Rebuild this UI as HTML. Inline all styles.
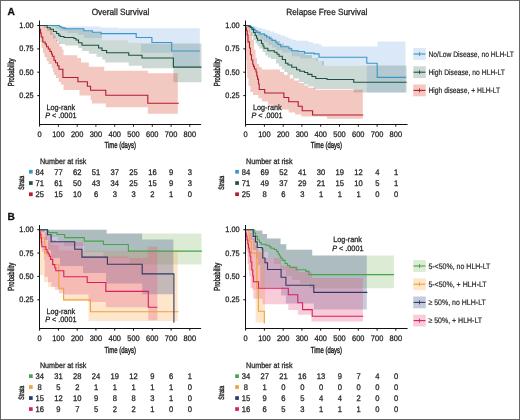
<!DOCTYPE html>
<html><head><meta charset="utf-8"><style>
html,body{margin:0;padding:0;background:#fff;}
body{width:520px;height:420px;overflow:hidden;font-family:"Liberation Sans", sans-serif;}
svg{display:block;will-change:transform;filter:blur(0.3px);} text{text-rendering:geometricPrecision;}
</style></head><body>
<svg width="520" height="420" viewBox="0 0 520 420" font-family='"Liberation Sans", sans-serif'>
<rect x="0" y="0" width="520" height="420" fill="#fff"/>
<text transform="translate(7.60,15.30) scale(1.000,1)" font-size="10.20" text-anchor="start" fill="#111" stroke="#111" stroke-width="0.28" font-weight="bold">A</text>
<text transform="translate(120.50,15.20) scale(0.915,1)" font-size="9.00" text-anchor="middle" fill="#262626" stroke="#262626" stroke-width="0.28" >Overall Survival</text>
<text transform="translate(326.80,15.20) scale(0.915,1)" font-size="9.00" text-anchor="middle" fill="#262626" stroke="#262626" stroke-width="0.28" >Relapse Free Survival</text>
<path d="M39.5,25.5 L59.0,25.5 L59.0,26.5 L100.0,26.5 L100.0,27.4 L118.0,27.4 L118.0,28.2 L199.8,28.2 L199.8,67.0 L172.5,67.0 L172.5,52.7 L141.0,52.7 L141.0,42.8 L128.0,42.8 L128.0,40.3 L102.0,40.3 L102.0,38.0 L84.0,38.0 L84.0,35.0 L78.0,35.0 L78.0,33.0 L67.0,33.0 L67.0,31.0 L60.0,31.0 L60.0,29.0 L56.0,29.0 L56.0,27.0 L52.0,27.0 L52.0,25.5 L39.5,25.5Z" fill="#87b2e8" fill-opacity="0.3" stroke="none"/>
<path d="M39.5,25.5 L58.0,25.5 L58.0,27.0 L66.0,27.0 L66.0,28.5 L84.0,28.5 L84.0,31.0 L92.4,31.0 L92.4,32.5 L102.0,32.5 L102.0,40.3 L128.0,40.3 L128.0,42.8 L141.0,42.8 L141.0,43.6 L201.5,43.6 L201.5,82.3 L173.4,82.3 L173.4,68.3 L142.0,68.3 L142.0,65.8 L128.7,65.8 L128.7,62.5 L105.2,62.5 L105.2,59.5 L102.3,59.5 L102.3,56.7 L96.5,56.7 L96.5,53.8 L88.8,53.8 L88.8,50.9 L82.1,50.9 L82.1,48.0 L78.3,48.0 L78.3,45.5 L65.0,45.5 L65.0,44.0 L59.0,44.0 L59.0,41.5 L56.0,41.5 L56.0,38.5 L53.0,38.5 L53.0,35.0 L50.0,35.0 L50.0,31.0 L47.0,31.0 L47.0,28.0 L44.0,28.0 L44.0,25.5 L39.5,25.5Z" fill="#588070" fill-opacity="0.3" stroke="none"/>
<path d="M39.5,25.5 L42.0,25.5 L42.0,26.0 L45.7,26.0 L45.7,27.0 L48.0,27.0 L48.0,28.5 L50.3,28.5 L50.3,30.0 L52.0,30.0 L52.0,33.0 L53.4,33.0 L53.4,35.4 L55.7,35.4 L55.7,40.0 L57.0,40.0 L57.0,42.4 L59.5,42.4 L59.5,46.4 L62.0,46.4 L62.0,49.6 L63.5,49.6 L63.5,55.2 L77.3,55.2 L77.3,58.0 L81.0,58.0 L81.0,62.5 L88.8,62.5 L88.8,66.8 L104.2,66.8 L104.2,70.7 L147.8,70.7 L147.8,73.2 L177.8,73.2 L177.8,113.7 L147.8,113.7 L147.8,107.3 L105.8,107.3 L105.8,103.5 L92.0,103.5 L92.0,100.3 L90.6,100.3 L90.6,95.5 L79.5,95.5 L79.5,90.0 L63.5,90.0 L63.5,84.5 L61.0,84.5 L61.0,82.0 L58.7,82.0 L58.7,78.0 L56.0,78.0 L56.0,75.0 L54.0,75.0 L54.0,72.0 L53.0,72.0 L53.0,68.0 L51.6,68.0 L51.6,64.0 L48.5,64.0 L48.5,61.0 L46.5,61.0 L46.5,57.0 L44.4,57.0 L44.4,53.0 L43.0,53.0 L43.0,48.0 L41.5,48.0 L41.5,42.0 L40.4,42.0 L40.4,35.0 L39.5,35.0 L39.5,25.5Z" fill="#d74830" fill-opacity="0.3" stroke="none"/>
<path d="M39.5,25.5 H59.2 V26.4 H61 V27.3 H63 V28.1 H65 V28.7 H83.8 V30.7 H92.4 V32.2 H101 V33.6 H136.2 V37.5 H151.9 V42.5 H171.7 V51 H199.8" fill="none" stroke="#3a96c6" stroke-width="1.1" stroke-linejoin="miter"/>
<path d="M39.5,25.5 H47.2 V27.7 H50.3 V29.2 H53.4 V31.5 H56.5 V33.5 H58.8 V35.4 H60.3 V36.5 H64 V37.5 H74 V38.5 H76 V40 H78.5 V42.8 H82 V45.3 H98.6 V48 H102 V50.5 H106.6 V52.7 H128.7 V55.2 H142 V58 H173.4 V67.1 H201.5" fill="none" stroke="#1b5340" stroke-width="1.1" stroke-linejoin="miter"/>
<path d="M39.5,25.5 V29.2 H40.5 V33 H41.2 V37 H42.8 V42 H45.2 V44 H46.5 V46.7 H48.3 V49 H50 V51.5 H51.5 V54 H52.4 V56.3 H54 V60.3 H55.5 V62.7 H57.5 V65.8 H59 V69.2 H62.9 V77.5 H77.9 V81.8 H87.4 V86.2 H90.6 V90.2 H105.8 V95.2 H147.8 V103.3 H178.8" fill="none" stroke="#b41a30" stroke-width="1.1" stroke-linejoin="miter"/>
<line x1="39.5" y1="20.5" x2="39.5" y2="125.0" stroke="#111" stroke-width="1"/>
<line x1="39.0" y1="124.5" x2="201.1" y2="124.5" stroke="#111" stroke-width="1"/>
<line x1="37.3" y1="25.5" x2="39.5" y2="25.5" stroke="#111" stroke-width="1"/>
<text transform="translate(33.60,28.10) scale(0.930,1)" font-size="7.92" text-anchor="end" fill="#262626" stroke="#262626" stroke-width="0.28" >1.00</text>
<line x1="37.3" y1="48.9" x2="39.5" y2="48.9" stroke="#111" stroke-width="1"/>
<text transform="translate(33.60,51.45) scale(0.930,1)" font-size="7.92" text-anchor="end" fill="#262626" stroke="#262626" stroke-width="0.28" >0.75</text>
<line x1="37.3" y1="72.2" x2="39.5" y2="72.2" stroke="#111" stroke-width="1"/>
<text transform="translate(33.60,74.80) scale(0.930,1)" font-size="7.92" text-anchor="end" fill="#262626" stroke="#262626" stroke-width="0.28" >0.50</text>
<line x1="37.3" y1="95.6" x2="39.5" y2="95.6" stroke="#111" stroke-width="1"/>
<text transform="translate(33.60,98.15) scale(0.930,1)" font-size="7.92" text-anchor="end" fill="#262626" stroke="#262626" stroke-width="0.28" >0.25</text>
<line x1="39.6" y1="124.5" x2="39.6" y2="126.7" stroke="#111" stroke-width="1"/>
<text transform="translate(39.60,137.10) scale(0.930,1)" font-size="8.03" text-anchor="middle" fill="#262626" stroke="#262626" stroke-width="0.28" >0</text>
<line x1="58.4" y1="124.5" x2="58.4" y2="126.7" stroke="#111" stroke-width="1"/>
<text transform="translate(58.38,137.10) scale(0.930,1)" font-size="8.03" text-anchor="middle" fill="#262626" stroke="#262626" stroke-width="0.28" >100</text>
<line x1="77.2" y1="124.5" x2="77.2" y2="126.7" stroke="#111" stroke-width="1"/>
<text transform="translate(77.16,137.10) scale(0.930,1)" font-size="8.03" text-anchor="middle" fill="#262626" stroke="#262626" stroke-width="0.28" >200</text>
<line x1="95.9" y1="124.5" x2="95.9" y2="126.7" stroke="#111" stroke-width="1"/>
<text transform="translate(95.94,137.10) scale(0.930,1)" font-size="8.03" text-anchor="middle" fill="#262626" stroke="#262626" stroke-width="0.28" >300</text>
<line x1="114.7" y1="124.5" x2="114.7" y2="126.7" stroke="#111" stroke-width="1"/>
<text transform="translate(114.72,137.10) scale(0.930,1)" font-size="8.03" text-anchor="middle" fill="#262626" stroke="#262626" stroke-width="0.28" >400</text>
<line x1="133.5" y1="124.5" x2="133.5" y2="126.7" stroke="#111" stroke-width="1"/>
<text transform="translate(133.50,137.10) scale(0.930,1)" font-size="8.03" text-anchor="middle" fill="#262626" stroke="#262626" stroke-width="0.28" >500</text>
<line x1="152.3" y1="124.5" x2="152.3" y2="126.7" stroke="#111" stroke-width="1"/>
<text transform="translate(152.28,137.10) scale(0.930,1)" font-size="8.03" text-anchor="middle" fill="#262626" stroke="#262626" stroke-width="0.28" >600</text>
<line x1="171.1" y1="124.5" x2="171.1" y2="126.7" stroke="#111" stroke-width="1"/>
<text transform="translate(171.06,137.10) scale(0.930,1)" font-size="8.03" text-anchor="middle" fill="#262626" stroke="#262626" stroke-width="0.28" >700</text>
<line x1="189.8" y1="124.5" x2="189.8" y2="126.7" stroke="#111" stroke-width="1"/>
<text transform="translate(189.84,137.10) scale(0.930,1)" font-size="8.03" text-anchor="middle" fill="#262626" stroke="#262626" stroke-width="0.28" >800</text>
<text transform="translate(13.5,72.4) rotate(-90) scale(0.680,1)" font-size="8.80" text-anchor="middle" fill="#262626" stroke="#262626" stroke-width="0.42">Probability</text>
<text transform="translate(60.80,109.60) scale(0.930,1)" font-size="7.81" text-anchor="middle" fill="#262626" stroke="#262626" stroke-width="0.28" >Log-rank</text>
<text transform="translate(45.20,118.00) scale(0.930,1)" font-size="7.81" text-anchor="start" fill="#262626" stroke="#262626" stroke-width="0.28" ><tspan font-style="italic">P</tspan> &lt; .0001</text>
<text transform="translate(120.2,148.3) scale(0.680,1)" font-size="8.80" text-anchor="middle" fill="#262626" stroke="#262626" stroke-width="0.42">Time (days)</text>
<path d="M245.8,25.5 L252.0,25.5 L252.0,26.2 L256.0,26.2 L256.0,27.0 L258.0,27.0 L258.0,28.0 L262.3,28.0 L262.3,29.2 L266.0,29.2 L266.0,30.3 L270.0,30.3 L270.0,31.5 L274.0,31.5 L274.0,33.0 L277.0,33.0 L277.0,34.2 L280.8,34.2 L280.8,35.4 L285.0,35.4 L285.0,37.0 L288.5,37.0 L288.5,38.5 L292.0,38.5 L292.0,39.7 L296.2,39.7 L296.2,40.8 L308.5,40.8 L308.5,42.3 L313.0,42.3 L313.0,43.5 L319.2,43.5 L319.2,44.6 L321.5,44.6 L321.5,46.5 L377.5,46.5 L377.5,41.5 L405.5,41.5 L405.5,92.6 L366.8,92.6 L366.8,65.2 L322.0,65.2 L322.0,61.0 L316.0,61.0 L316.0,58.5 L300.0,58.5 L300.0,56.3 L291.8,56.3 L291.8,52.5 L282.0,52.5 L282.0,50.0 L276.0,50.0 L276.0,47.5 L272.0,47.5 L272.0,45.0 L268.0,45.0 L268.0,42.0 L264.0,42.0 L264.0,39.5 L260.0,39.5 L260.0,36.5 L257.0,36.5 L257.0,33.5 L254.0,33.5 L254.0,31.0 L252.0,31.0 L252.0,29.0 L250.4,29.0 L250.4,27.0 L248.0,27.0 L248.0,25.5 L245.8,25.5Z" fill="#87b2e8" fill-opacity="0.3" stroke="none"/>
<path d="M245.8,25.5 L250.0,25.5 L250.0,26.5 L252.0,26.5 L252.0,27.5 L254.0,27.5 L254.0,28.5 L256.0,28.5 L256.0,30.0 L258.4,30.0 L258.4,31.5 L261.0,31.5 L261.0,33.0 L264.7,33.0 L264.7,34.5 L268.0,34.5 L268.0,36.5 L272.0,36.5 L272.0,39.0 L276.0,39.0 L276.0,41.0 L280.0,41.0 L280.0,43.5 L284.0,43.5 L284.0,45.5 L288.0,45.5 L288.0,47.5 L292.0,47.5 L292.0,50.0 L298.0,50.0 L298.0,52.5 L305.0,52.5 L305.0,55.0 L312.0,55.0 L312.0,58.0 L318.0,58.0 L318.0,61.0 L324.0,61.0 L324.0,65.6 L406.6,65.6 L406.6,92.4 L353.7,92.4 L353.7,88.9 L314.0,88.9 L314.0,86.6 L308.3,86.6 L308.3,84.5 L304.0,84.5 L304.0,82.0 L299.0,82.0 L299.0,78.5 L293.0,78.5 L293.0,75.0 L287.5,75.0 L287.5,72.0 L284.5,72.0 L284.5,69.3 L281.8,69.3 L281.8,66.5 L279.0,66.5 L279.0,63.5 L276.0,63.5 L276.0,59.0 L271.0,59.0 L271.0,57.5 L268.0,57.5 L268.0,55.6 L265.3,55.6 L265.3,52.0 L262.5,52.0 L262.5,48.5 L259.5,48.5 L259.5,46.0 L257.5,46.0 L257.5,43.5 L255.5,43.5 L255.5,40.0 L253.0,40.0 L253.0,36.0 L251.0,36.0 L251.0,32.0 L249.0,32.0 L249.0,28.0 L247.0,28.0 L247.0,25.5 L245.8,25.5Z" fill="#588070" fill-opacity="0.3" stroke="none"/>
<path d="M245.8,25.5 L248.0,25.5 L248.0,27.0 L250.0,27.0 L250.0,32.0 L252.0,32.0 L252.0,40.0 L254.0,40.0 L254.0,50.0 L255.5,50.0 L255.5,58.0 L257.0,58.0 L257.0,64.0 L259.0,64.0 L259.0,67.0 L261.8,67.0 L261.8,69.4 L280.0,69.4 L280.0,72.0 L284.0,72.0 L284.0,75.0 L289.8,75.0 L289.8,78.5 L294.0,78.5 L294.0,80.5 L299.0,80.5 L299.0,83.1 L304.0,83.1 L304.0,85.5 L308.3,85.5 L308.3,87.8 L315.2,87.8 L315.2,89.8 L362.8,89.8 L362.8,118.7 L327.0,118.7 L327.0,116.6 L301.4,116.6 L301.4,114.5 L295.0,114.5 L295.0,112.6 L288.7,112.6 L288.7,109.4 L279.0,109.4 L279.0,107.0 L273.0,107.0 L273.0,104.7 L268.0,104.7 L268.0,101.5 L262.0,101.5 L262.0,98.3 L258.4,98.3 L258.4,95.0 L253.0,95.0 L253.0,92.0 L250.4,92.0 L250.4,86.0 L248.5,86.0 L248.5,78.0 L247.2,78.0 L247.2,70.0 L246.5,70.0 L246.5,60.0 L245.8,60.0 L245.8,25.5Z" fill="#d74830" fill-opacity="0.3" stroke="none"/>
<path d="M245.8,25.5 H250.4 V26.5 H251.5 V27.8 H253.6 V29.2 H255 V30.8 H256.8 V32.4 H260 V34 H264.7 V35.5 H266.5 V37 H269.5 V38.7 H272 V40.5 H275.9 V42.7 H278 V44.5 H280.7 V46.7 H289 V48.7 H291.8 V50.7 H298.2 V51.5 H304.6 V53.1 H314.2 V53.9 H319 V57.2 H366.8 V63.2 H377.2 V77.4 H406.1" fill="none" stroke="#3a96c6" stroke-width="1.1" stroke-linejoin="miter"/>
<path d="M245.8,25.5 H248.8 V26.5 H250.4 V27.5 H252 V29.5 H253.5 V32.5 H255.2 V35.5 H256.5 V38 H257.6 V40.3 H261.5 V43.5 H263 V46 H264 V48.3 H267.9 V50.7 H274.3 V52.3 H277 V54.3 H279 V56.3 H282.3 V59.5 H285.5 V63.3 H288 V65 H291.8 V67.2 H296.6 V69.8 H299.8 V71.2 H304.6 V72.5 H307.8 V74.4 H312 V76.5 H315.8 V78.5 H327 V79.5 H353.7 V82.3 H406.6" fill="none" stroke="#1b5340" stroke-width="1.1" stroke-linejoin="miter"/>
<path d="M245.8,25.5 V28 H246.5 V30.8 H247.2 V35 H248 V41.9 H249.5 V48 H250.4 V54.7 H251.5 V60 H252.8 V64.3 H253.5 V66.4 H254.4 V69 H256 V72 H256.8 V76 H257.6 V79.1 H258.5 V84 H259.2 V89.5 H264.7 V93 H283.9 V97.5 H288.7 V101.8 H298.2 V106.3 H302.2 V110.7 H312.6 V115 H363.3" fill="none" stroke="#b41a30" stroke-width="1.1" stroke-linejoin="miter"/>
<line x1="245.5" y1="20.5" x2="245.5" y2="125.0" stroke="#111" stroke-width="1"/>
<line x1="245.0" y1="124.5" x2="407.6" y2="124.5" stroke="#111" stroke-width="1"/>
<line x1="243.3" y1="25.5" x2="245.5" y2="25.5" stroke="#111" stroke-width="1"/>
<text transform="translate(239.60,28.10) scale(0.930,1)" font-size="7.92" text-anchor="end" fill="#262626" stroke="#262626" stroke-width="0.28" >1.00</text>
<line x1="243.3" y1="48.9" x2="245.5" y2="48.9" stroke="#111" stroke-width="1"/>
<text transform="translate(239.60,51.45) scale(0.930,1)" font-size="7.92" text-anchor="end" fill="#262626" stroke="#262626" stroke-width="0.28" >0.75</text>
<line x1="243.3" y1="72.2" x2="245.5" y2="72.2" stroke="#111" stroke-width="1"/>
<text transform="translate(239.60,74.80) scale(0.930,1)" font-size="7.92" text-anchor="end" fill="#262626" stroke="#262626" stroke-width="0.28" >0.50</text>
<line x1="243.3" y1="95.6" x2="245.5" y2="95.6" stroke="#111" stroke-width="1"/>
<text transform="translate(239.60,98.15) scale(0.930,1)" font-size="7.92" text-anchor="end" fill="#262626" stroke="#262626" stroke-width="0.28" >0.25</text>
<line x1="245.6" y1="124.5" x2="245.6" y2="126.7" stroke="#111" stroke-width="1"/>
<text transform="translate(245.60,137.10) scale(0.930,1)" font-size="8.03" text-anchor="middle" fill="#262626" stroke="#262626" stroke-width="0.28" >0</text>
<line x1="264.4" y1="124.5" x2="264.4" y2="126.7" stroke="#111" stroke-width="1"/>
<text transform="translate(264.38,137.10) scale(0.930,1)" font-size="8.03" text-anchor="middle" fill="#262626" stroke="#262626" stroke-width="0.28" >100</text>
<line x1="283.2" y1="124.5" x2="283.2" y2="126.7" stroke="#111" stroke-width="1"/>
<text transform="translate(283.16,137.10) scale(0.930,1)" font-size="8.03" text-anchor="middle" fill="#262626" stroke="#262626" stroke-width="0.28" >200</text>
<line x1="301.9" y1="124.5" x2="301.9" y2="126.7" stroke="#111" stroke-width="1"/>
<text transform="translate(301.94,137.10) scale(0.930,1)" font-size="8.03" text-anchor="middle" fill="#262626" stroke="#262626" stroke-width="0.28" >300</text>
<line x1="320.7" y1="124.5" x2="320.7" y2="126.7" stroke="#111" stroke-width="1"/>
<text transform="translate(320.72,137.10) scale(0.930,1)" font-size="8.03" text-anchor="middle" fill="#262626" stroke="#262626" stroke-width="0.28" >400</text>
<line x1="339.5" y1="124.5" x2="339.5" y2="126.7" stroke="#111" stroke-width="1"/>
<text transform="translate(339.50,137.10) scale(0.930,1)" font-size="8.03" text-anchor="middle" fill="#262626" stroke="#262626" stroke-width="0.28" >500</text>
<line x1="358.3" y1="124.5" x2="358.3" y2="126.7" stroke="#111" stroke-width="1"/>
<text transform="translate(358.28,137.10) scale(0.930,1)" font-size="8.03" text-anchor="middle" fill="#262626" stroke="#262626" stroke-width="0.28" >600</text>
<line x1="377.1" y1="124.5" x2="377.1" y2="126.7" stroke="#111" stroke-width="1"/>
<text transform="translate(377.06,137.10) scale(0.930,1)" font-size="8.03" text-anchor="middle" fill="#262626" stroke="#262626" stroke-width="0.28" >700</text>
<line x1="395.8" y1="124.5" x2="395.8" y2="126.7" stroke="#111" stroke-width="1"/>
<text transform="translate(395.84,137.10) scale(0.930,1)" font-size="8.03" text-anchor="middle" fill="#262626" stroke="#262626" stroke-width="0.28" >800</text>
<text transform="translate(219.7,72.4) rotate(-90) scale(0.680,1)" font-size="8.80" text-anchor="middle" fill="#262626" stroke="#262626" stroke-width="0.42">Probability</text>
<text transform="translate(267.30,109.60) scale(0.930,1)" font-size="7.81" text-anchor="middle" fill="#262626" stroke="#262626" stroke-width="0.28" >Log-rank</text>
<text transform="translate(251.40,118.00) scale(0.930,1)" font-size="7.81" text-anchor="start" fill="#262626" stroke="#262626" stroke-width="0.28" ><tspan font-style="italic">P</tspan> &lt; .0001</text>
<text transform="translate(326.4,148.3) scale(0.680,1)" font-size="8.80" text-anchor="middle" fill="#262626" stroke="#262626" stroke-width="0.42">Time (days)</text>
<rect x="413.2" y="48.1" width="12.6" height="11.8" fill="#87b2e8" fill-opacity="0.3"/>
<line x1="413.6" y1="54.0" x2="425.4" y2="54.0" stroke="#3a96c6" stroke-width="1.1"/>
<line x1="419.5" y1="52.0" x2="419.5" y2="56.0" stroke="#3a96c6" stroke-width="0.9"/>
<text transform="translate(428.4,56.8) scale(0.845,1)" font-size="8.0" fill="#262626" stroke="#262626" stroke-width="0.2">No/Low Disease, no HLH-LT</text>
<rect x="413.2" y="66.3" width="12.6" height="11.8" fill="#588070" fill-opacity="0.3"/>
<line x1="413.6" y1="72.2" x2="425.4" y2="72.2" stroke="#1b5340" stroke-width="1.1"/>
<line x1="419.5" y1="70.2" x2="419.5" y2="74.2" stroke="#1b5340" stroke-width="0.9"/>
<text transform="translate(428.4,75.0) scale(0.845,1)" font-size="8.0" fill="#262626" stroke="#262626" stroke-width="0.2">High Disease, no HLH-LT</text>
<rect x="413.2" y="84.5" width="12.6" height="11.8" fill="#d74830" fill-opacity="0.3"/>
<line x1="413.6" y1="90.4" x2="425.4" y2="90.4" stroke="#b41a30" stroke-width="1.1"/>
<line x1="419.5" y1="88.4" x2="419.5" y2="92.4" stroke="#b41a30" stroke-width="0.9"/>
<text transform="translate(428.4,93.2) scale(0.845,1)" font-size="8.0" fill="#262626" stroke="#262626" stroke-width="0.2">High disease, + HLH-LT</text>
<text transform="translate(39.90,163.50) scale(0.895,1)" font-size="7.97" text-anchor="start" fill="#262626" stroke="#262626" stroke-width="0.28" >Number at risk</text>
<rect x="29.0" y="169.9" width="3.7" height="3.7" fill="#3a96c6"/>
<text transform="translate(39.70,174.55) scale(0.930,1)" font-size="8.19" text-anchor="middle" fill="#262626" stroke="#262626" stroke-width="0.28" >84</text>
<text transform="translate(58.48,174.55) scale(0.930,1)" font-size="8.19" text-anchor="middle" fill="#262626" stroke="#262626" stroke-width="0.28" >77</text>
<text transform="translate(77.26,174.55) scale(0.930,1)" font-size="8.19" text-anchor="middle" fill="#262626" stroke="#262626" stroke-width="0.28" >62</text>
<text transform="translate(96.04,174.55) scale(0.930,1)" font-size="8.19" text-anchor="middle" fill="#262626" stroke="#262626" stroke-width="0.28" >51</text>
<text transform="translate(114.82,174.55) scale(0.930,1)" font-size="8.19" text-anchor="middle" fill="#262626" stroke="#262626" stroke-width="0.28" >37</text>
<text transform="translate(133.60,174.55) scale(0.930,1)" font-size="8.19" text-anchor="middle" fill="#262626" stroke="#262626" stroke-width="0.28" >25</text>
<text transform="translate(152.38,174.55) scale(0.930,1)" font-size="8.19" text-anchor="middle" fill="#262626" stroke="#262626" stroke-width="0.28" >16</text>
<text transform="translate(171.16,174.55) scale(0.930,1)" font-size="8.19" text-anchor="middle" fill="#262626" stroke="#262626" stroke-width="0.28" >9</text>
<text transform="translate(189.94,174.55) scale(0.930,1)" font-size="8.19" text-anchor="middle" fill="#262626" stroke="#262626" stroke-width="0.28" >3</text>
<rect x="29.0" y="181.2" width="3.7" height="3.7" fill="#1b5340"/>
<text transform="translate(39.70,185.85) scale(0.930,1)" font-size="8.19" text-anchor="middle" fill="#262626" stroke="#262626" stroke-width="0.28" >71</text>
<text transform="translate(58.48,185.85) scale(0.930,1)" font-size="8.19" text-anchor="middle" fill="#262626" stroke="#262626" stroke-width="0.28" >61</text>
<text transform="translate(77.26,185.85) scale(0.930,1)" font-size="8.19" text-anchor="middle" fill="#262626" stroke="#262626" stroke-width="0.28" >50</text>
<text transform="translate(96.04,185.85) scale(0.930,1)" font-size="8.19" text-anchor="middle" fill="#262626" stroke="#262626" stroke-width="0.28" >43</text>
<text transform="translate(114.82,185.85) scale(0.930,1)" font-size="8.19" text-anchor="middle" fill="#262626" stroke="#262626" stroke-width="0.28" >34</text>
<text transform="translate(133.60,185.85) scale(0.930,1)" font-size="8.19" text-anchor="middle" fill="#262626" stroke="#262626" stroke-width="0.28" >25</text>
<text transform="translate(152.38,185.85) scale(0.930,1)" font-size="8.19" text-anchor="middle" fill="#262626" stroke="#262626" stroke-width="0.28" >15</text>
<text transform="translate(171.16,185.85) scale(0.930,1)" font-size="8.19" text-anchor="middle" fill="#262626" stroke="#262626" stroke-width="0.28" >9</text>
<text transform="translate(189.94,185.85) scale(0.930,1)" font-size="8.19" text-anchor="middle" fill="#262626" stroke="#262626" stroke-width="0.28" >3</text>
<rect x="29.0" y="192.4" width="3.7" height="3.7" fill="#b41a30"/>
<text transform="translate(39.70,197.05) scale(0.930,1)" font-size="8.19" text-anchor="middle" fill="#262626" stroke="#262626" stroke-width="0.28" >25</text>
<text transform="translate(58.48,197.05) scale(0.930,1)" font-size="8.19" text-anchor="middle" fill="#262626" stroke="#262626" stroke-width="0.28" >15</text>
<text transform="translate(77.26,197.05) scale(0.930,1)" font-size="8.19" text-anchor="middle" fill="#262626" stroke="#262626" stroke-width="0.28" >10</text>
<text transform="translate(96.04,197.05) scale(0.930,1)" font-size="8.19" text-anchor="middle" fill="#262626" stroke="#262626" stroke-width="0.28" >6</text>
<text transform="translate(114.82,197.05) scale(0.930,1)" font-size="8.19" text-anchor="middle" fill="#262626" stroke="#262626" stroke-width="0.28" >3</text>
<text transform="translate(133.60,197.05) scale(0.930,1)" font-size="8.19" text-anchor="middle" fill="#262626" stroke="#262626" stroke-width="0.28" >3</text>
<text transform="translate(152.38,197.05) scale(0.930,1)" font-size="8.19" text-anchor="middle" fill="#262626" stroke="#262626" stroke-width="0.28" >2</text>
<text transform="translate(171.16,197.05) scale(0.930,1)" font-size="8.19" text-anchor="middle" fill="#262626" stroke="#262626" stroke-width="0.28" >1</text>
<text transform="translate(189.94,197.05) scale(0.930,1)" font-size="8.19" text-anchor="middle" fill="#262626" stroke="#262626" stroke-width="0.28" >0</text>
<text transform="translate(23.6,182.8) rotate(-90) scale(0.670,1)" font-size="7.80" text-anchor="middle" fill="#262626" stroke="#262626" stroke-width="0.42">Strata</text>
<text transform="translate(246.10,163.50) scale(0.895,1)" font-size="7.97" text-anchor="start" fill="#262626" stroke="#262626" stroke-width="0.28" >Number at risk</text>
<rect x="235.2" y="169.9" width="3.7" height="3.7" fill="#3a96c6"/>
<text transform="translate(245.90,174.55) scale(0.930,1)" font-size="8.19" text-anchor="middle" fill="#262626" stroke="#262626" stroke-width="0.28" >84</text>
<text transform="translate(264.68,174.55) scale(0.930,1)" font-size="8.19" text-anchor="middle" fill="#262626" stroke="#262626" stroke-width="0.28" >69</text>
<text transform="translate(283.46,174.55) scale(0.930,1)" font-size="8.19" text-anchor="middle" fill="#262626" stroke="#262626" stroke-width="0.28" >52</text>
<text transform="translate(302.24,174.55) scale(0.930,1)" font-size="8.19" text-anchor="middle" fill="#262626" stroke="#262626" stroke-width="0.28" >41</text>
<text transform="translate(321.02,174.55) scale(0.930,1)" font-size="8.19" text-anchor="middle" fill="#262626" stroke="#262626" stroke-width="0.28" >30</text>
<text transform="translate(339.80,174.55) scale(0.930,1)" font-size="8.19" text-anchor="middle" fill="#262626" stroke="#262626" stroke-width="0.28" >19</text>
<text transform="translate(358.58,174.55) scale(0.930,1)" font-size="8.19" text-anchor="middle" fill="#262626" stroke="#262626" stroke-width="0.28" >12</text>
<text transform="translate(377.36,174.55) scale(0.930,1)" font-size="8.19" text-anchor="middle" fill="#262626" stroke="#262626" stroke-width="0.28" >4</text>
<text transform="translate(396.14,174.55) scale(0.930,1)" font-size="8.19" text-anchor="middle" fill="#262626" stroke="#262626" stroke-width="0.28" >1</text>
<rect x="235.2" y="181.2" width="3.7" height="3.7" fill="#1b5340"/>
<text transform="translate(245.90,185.85) scale(0.930,1)" font-size="8.19" text-anchor="middle" fill="#262626" stroke="#262626" stroke-width="0.28" >71</text>
<text transform="translate(264.68,185.85) scale(0.930,1)" font-size="8.19" text-anchor="middle" fill="#262626" stroke="#262626" stroke-width="0.28" >49</text>
<text transform="translate(283.46,185.85) scale(0.930,1)" font-size="8.19" text-anchor="middle" fill="#262626" stroke="#262626" stroke-width="0.28" >37</text>
<text transform="translate(302.24,185.85) scale(0.930,1)" font-size="8.19" text-anchor="middle" fill="#262626" stroke="#262626" stroke-width="0.28" >29</text>
<text transform="translate(321.02,185.85) scale(0.930,1)" font-size="8.19" text-anchor="middle" fill="#262626" stroke="#262626" stroke-width="0.28" >21</text>
<text transform="translate(339.80,185.85) scale(0.930,1)" font-size="8.19" text-anchor="middle" fill="#262626" stroke="#262626" stroke-width="0.28" >15</text>
<text transform="translate(358.58,185.85) scale(0.930,1)" font-size="8.19" text-anchor="middle" fill="#262626" stroke="#262626" stroke-width="0.28" >10</text>
<text transform="translate(377.36,185.85) scale(0.930,1)" font-size="8.19" text-anchor="middle" fill="#262626" stroke="#262626" stroke-width="0.28" >5</text>
<text transform="translate(396.14,185.85) scale(0.930,1)" font-size="8.19" text-anchor="middle" fill="#262626" stroke="#262626" stroke-width="0.28" >1</text>
<rect x="235.2" y="192.4" width="3.7" height="3.7" fill="#b41a30"/>
<text transform="translate(245.90,197.05) scale(0.930,1)" font-size="8.19" text-anchor="middle" fill="#262626" stroke="#262626" stroke-width="0.28" >25</text>
<text transform="translate(264.68,197.05) scale(0.930,1)" font-size="8.19" text-anchor="middle" fill="#262626" stroke="#262626" stroke-width="0.28" >8</text>
<text transform="translate(283.46,197.05) scale(0.930,1)" font-size="8.19" text-anchor="middle" fill="#262626" stroke="#262626" stroke-width="0.28" >6</text>
<text transform="translate(302.24,197.05) scale(0.930,1)" font-size="8.19" text-anchor="middle" fill="#262626" stroke="#262626" stroke-width="0.28" >3</text>
<text transform="translate(321.02,197.05) scale(0.930,1)" font-size="8.19" text-anchor="middle" fill="#262626" stroke="#262626" stroke-width="0.28" >1</text>
<text transform="translate(339.80,197.05) scale(0.930,1)" font-size="8.19" text-anchor="middle" fill="#262626" stroke="#262626" stroke-width="0.28" >1</text>
<text transform="translate(358.58,197.05) scale(0.930,1)" font-size="8.19" text-anchor="middle" fill="#262626" stroke="#262626" stroke-width="0.28" >1</text>
<text transform="translate(377.36,197.05) scale(0.930,1)" font-size="8.19" text-anchor="middle" fill="#262626" stroke="#262626" stroke-width="0.28" >0</text>
<text transform="translate(396.14,197.05) scale(0.930,1)" font-size="8.19" text-anchor="middle" fill="#262626" stroke="#262626" stroke-width="0.28" >0</text>
<text transform="translate(224.3,182.8) rotate(-90) scale(0.670,1)" font-size="7.80" text-anchor="middle" fill="#262626" stroke="#262626" stroke-width="0.42">Strata</text>
<text transform="translate(7.60,219.60) scale(1.000,1)" font-size="10.20" text-anchor="start" fill="#111" stroke="#111" stroke-width="0.28" font-weight="bold">B</text>
<path d="M39.5,229.7 L106.6,229.7 L106.6,233.5 L201.5,233.5 L201.5,264.5 L129.5,264.5 L129.5,258.0 L103.4,258.0 L103.4,252.0 L84.3,252.0 L84.3,246.0 L64.0,246.0 L64.0,241.0 L58.0,241.0 L58.0,237.0 L50.0,237.0 L50.0,233.0 L47.0,233.0 L47.0,229.7 L39.5,229.7Z" fill="#8abc70" fill-opacity="0.3" stroke="none"/>
<path d="M39.5,229.7 L45.0,229.7 L45.0,236.0 L47.0,236.0 L47.0,241.0 L51.0,241.0 L51.0,245.0 L58.8,245.0 L58.8,250.5 L177.7,250.5 L177.7,321.0 L88.5,321.0 L88.5,300.5 L63.6,300.5 L63.6,290.0 L58.8,290.0 L58.8,287.0 L48.0,287.0 L48.0,282.0 L44.0,282.0 L44.0,275.0 L39.5,275.0 L39.5,229.7Z" fill="#f8ac55" fill-opacity="0.3" stroke="none"/>
<path d="M39.5,229.7 L106.6,229.7 L106.6,233.5 L142.2,233.5 L142.2,239.5 L173.4,239.5 L173.4,294.2 L142.2,294.2 L142.2,283.4 L106.0,283.4 L106.0,273.0 L83.0,273.0 L83.0,266.0 L60.0,266.0 L60.0,258.0 L51.0,258.0 L51.0,250.0 L48.0,250.0 L48.0,240.0 L45.0,240.0 L45.0,232.0 L39.5,232.0 L39.5,229.7Z" fill="#414e8e" fill-opacity="0.3" stroke="none"/>
<path d="M39.5,229.7 L44.0,229.7 L44.0,232.0 L48.0,232.0 L48.0,236.0 L52.0,236.0 L52.0,240.0 L56.0,240.0 L56.0,242.0 L83.0,242.0 L83.0,256.5 L128.6,256.5 L128.6,258.0 L147.8,258.0 L147.8,246.6 L157.4,246.6 L157.4,320.2 L148.3,320.2 L148.3,307.2 L105.8,307.2 L105.8,302.0 L88.5,302.0 L88.5,294.5 L63.6,294.5 L63.6,293.3 L58.8,293.3 L58.8,290.0 L55.0,290.0 L55.0,286.7 L51.3,286.7 L51.3,282.0 L48.0,282.0 L48.0,276.7 L44.7,276.7 L44.7,260.0 L44.0,260.0 L44.0,252.0 L42.0,252.0 L42.0,245.0 L40.5,245.0 L40.5,236.0 L39.5,236.0 L39.5,229.7Z" fill="#e85880" fill-opacity="0.3" stroke="none"/>
<path d="M39.5,229.7 H47.6 V231 H48.5 V232.6 H57 V234.5 H64.7 V237.6 H84.3 V241.1 H103.4 V244.5 H128.4 V251.1 H201.9" fill="none" stroke="#4aa24a" stroke-width="1.1" stroke-linejoin="miter"/>
<path d="M39.5,229.7 V233 H41 V238 H44.8 V253.1 H48.2 V256.3 H50.5 V259.4 H52.7 V264.8 H58.8 V288.3 H63.6 V299.9 H90.4 V311.7 H178.6" fill="none" stroke="#eda33a" stroke-width="1.1" stroke-linejoin="miter"/>
<path d="M39.5,229.7 H47.4 V234.8 H51.1 V241.8 H74.7 V249.2 H81.9 V257.1 H107.4 V264.3 H142.2 V273.9 H173.9 V322.8" fill="none" stroke="#2e3a62" stroke-width="1.1" stroke-linejoin="miter"/>
<path d="M39.5,229.7 V232 H40.2 V234.5 H40.9 V238 H41.4 V242.1 H41.8 V246.8 H45.9 V249.5 H47 V252 H48.2 V254 H49.5 V256.3 H50.5 V259.4 H52.7 V264.6 H54.8 V267.8 H55.8 V270.8 H63.8 V276.7 H87.2 V282.5 H105.8 V291.4 H148.3 V307.2 H157.4" fill="none" stroke="#d91e63" stroke-width="1.1" stroke-linejoin="miter"/>
<line x1="39.5" y1="225.0" x2="39.5" y2="329.0" stroke="#111" stroke-width="1"/>
<line x1="39.0" y1="328.5" x2="201.1" y2="328.5" stroke="#111" stroke-width="1"/>
<line x1="37.3" y1="229.7" x2="39.5" y2="229.7" stroke="#111" stroke-width="1"/>
<text transform="translate(33.60,232.30) scale(0.930,1)" font-size="7.92" text-anchor="end" fill="#262626" stroke="#262626" stroke-width="0.28" >1.00</text>
<line x1="37.3" y1="253.0" x2="39.5" y2="253.0" stroke="#111" stroke-width="1"/>
<text transform="translate(33.60,255.65) scale(0.930,1)" font-size="7.92" text-anchor="end" fill="#262626" stroke="#262626" stroke-width="0.28" >0.75</text>
<line x1="37.3" y1="276.4" x2="39.5" y2="276.4" stroke="#111" stroke-width="1"/>
<text transform="translate(33.60,279.00) scale(0.930,1)" font-size="7.92" text-anchor="end" fill="#262626" stroke="#262626" stroke-width="0.28" >0.50</text>
<line x1="37.3" y1="299.8" x2="39.5" y2="299.8" stroke="#111" stroke-width="1"/>
<text transform="translate(33.60,302.35) scale(0.930,1)" font-size="7.92" text-anchor="end" fill="#262626" stroke="#262626" stroke-width="0.28" >0.25</text>
<line x1="39.6" y1="328.5" x2="39.6" y2="330.7" stroke="#111" stroke-width="1"/>
<text transform="translate(39.60,341.10) scale(0.930,1)" font-size="8.03" text-anchor="middle" fill="#262626" stroke="#262626" stroke-width="0.28" >0</text>
<line x1="58.4" y1="328.5" x2="58.4" y2="330.7" stroke="#111" stroke-width="1"/>
<text transform="translate(58.38,341.10) scale(0.930,1)" font-size="8.03" text-anchor="middle" fill="#262626" stroke="#262626" stroke-width="0.28" >100</text>
<line x1="77.2" y1="328.5" x2="77.2" y2="330.7" stroke="#111" stroke-width="1"/>
<text transform="translate(77.16,341.10) scale(0.930,1)" font-size="8.03" text-anchor="middle" fill="#262626" stroke="#262626" stroke-width="0.28" >200</text>
<line x1="95.9" y1="328.5" x2="95.9" y2="330.7" stroke="#111" stroke-width="1"/>
<text transform="translate(95.94,341.10) scale(0.930,1)" font-size="8.03" text-anchor="middle" fill="#262626" stroke="#262626" stroke-width="0.28" >300</text>
<line x1="114.7" y1="328.5" x2="114.7" y2="330.7" stroke="#111" stroke-width="1"/>
<text transform="translate(114.72,341.10) scale(0.930,1)" font-size="8.03" text-anchor="middle" fill="#262626" stroke="#262626" stroke-width="0.28" >400</text>
<line x1="133.5" y1="328.5" x2="133.5" y2="330.7" stroke="#111" stroke-width="1"/>
<text transform="translate(133.50,341.10) scale(0.930,1)" font-size="8.03" text-anchor="middle" fill="#262626" stroke="#262626" stroke-width="0.28" >500</text>
<line x1="152.3" y1="328.5" x2="152.3" y2="330.7" stroke="#111" stroke-width="1"/>
<text transform="translate(152.28,341.10) scale(0.930,1)" font-size="8.03" text-anchor="middle" fill="#262626" stroke="#262626" stroke-width="0.28" >600</text>
<line x1="171.1" y1="328.5" x2="171.1" y2="330.7" stroke="#111" stroke-width="1"/>
<text transform="translate(171.06,341.10) scale(0.930,1)" font-size="8.03" text-anchor="middle" fill="#262626" stroke="#262626" stroke-width="0.28" >700</text>
<line x1="189.8" y1="328.5" x2="189.8" y2="330.7" stroke="#111" stroke-width="1"/>
<text transform="translate(189.84,341.10) scale(0.930,1)" font-size="8.03" text-anchor="middle" fill="#262626" stroke="#262626" stroke-width="0.28" >800</text>
<text transform="translate(13.5,276.7) rotate(-90) scale(0.680,1)" font-size="8.80" text-anchor="middle" fill="#262626" stroke="#262626" stroke-width="0.42">Probability</text>
<text transform="translate(60.80,313.80) scale(0.930,1)" font-size="7.81" text-anchor="middle" fill="#262626" stroke="#262626" stroke-width="0.28" >Log-rank</text>
<text transform="translate(45.20,322.20) scale(0.930,1)" font-size="7.81" text-anchor="start" fill="#262626" stroke="#262626" stroke-width="0.28" ><tspan font-style="italic">P</tspan> &lt; .0001</text>
<text transform="translate(120.2,352.6) scale(0.680,1)" font-size="8.80" text-anchor="middle" fill="#262626" stroke="#262626" stroke-width="0.42">Time (days)</text>
<path d="M245.5,229.7 L262.5,229.7 L262.5,234.0 L267.0,234.0 L267.0,238.6 L280.5,238.6 L280.5,244.2 L286.3,244.2 L286.3,249.7 L312.2,249.7 L312.2,255.6 L393.9,255.6 L393.9,288.2 L309.0,288.2 L309.0,283.5 L300.0,283.5 L300.0,280.0 L292.0,280.0 L292.0,276.0 L286.0,276.0 L286.0,270.0 L280.0,270.0 L280.0,264.0 L274.0,264.0 L274.0,258.0 L268.0,258.0 L268.0,252.0 L263.0,252.0 L263.0,246.0 L259.0,246.0 L259.0,240.0 L256.0,240.0 L256.0,234.0 L254.0,234.0 L254.0,229.7 L245.5,229.7Z" fill="#8abc70" fill-opacity="0.3" stroke="none"/>
<path d="M245.5,229.7 L256.0,229.7 L256.0,231.0 L262.3,231.0 L262.3,234.0 L267.0,234.0 L267.0,238.6 L280.5,238.6 L280.5,244.2 L286.3,244.2 L286.3,249.7 L312.2,249.7 L312.2,255.6 L366.8,255.6 L366.8,309.6 L313.8,309.6 L313.8,303.5 L285.9,303.5 L285.9,295.5 L281.1,295.5 L281.1,287.5 L260.3,287.5 L260.3,265.0 L258.0,265.0 L258.0,258.0 L256.0,258.0 L256.0,250.0 L253.0,250.0 L253.0,240.0 L250.0,240.0 L250.0,229.7 L245.5,229.7Z" fill="#414e8e" fill-opacity="0.3" stroke="none"/>
<path d="M245.5,229.7 L249.0,229.7 L249.0,232.0 L252.0,232.0 L252.0,236.0 L255.0,236.0 L255.0,242.0 L258.0,242.0 L258.0,250.0 L265.1,250.0 L265.1,322.6 L255.6,322.6 L255.6,290.0 L252.0,290.0 L252.0,270.0 L248.0,270.0 L248.0,250.0 L245.5,250.0 L245.5,229.7Z" fill="#f8ac55" fill-opacity="0.3" stroke="none"/>
<path d="M245.5,229.7 L249.0,229.7 L249.0,233.0 L252.0,233.0 L252.0,238.0 L255.0,238.0 L255.0,245.0 L258.0,245.0 L258.0,252.0 L263.0,252.0 L263.0,258.0 L281.0,258.0 L281.0,266.0 L298.0,266.0 L298.0,272.0 L312.0,272.0 L312.0,278.0 L362.9,278.0 L362.9,321.5 L311.5,321.5 L311.5,314.7 L297.8,314.7 L297.8,309.9 L288.3,309.9 L288.3,304.3 L262.7,304.3 L262.7,298.7 L253.2,298.7 L253.2,288.0 L250.5,288.0 L250.5,276.0 L249.0,276.0 L249.0,264.0 L247.5,264.0 L247.5,252.0 L246.5,252.0 L246.5,240.0 L245.5,240.0 L245.5,229.7Z" fill="#e85880" fill-opacity="0.3" stroke="none"/>
<path d="M245.5,229.7 H254 V233 H255.5 V236.4 H257.5 V240 H259.5 V242.5 H261.2 V244.2 H266 V245.3 H269.3 V246.6 H271 V248.2 H274.2 V249.5 H276.6 V251.5 H278.2 V254 H279.5 V256 H280.7 V258 H282.3 V260.4 H285.1 V263.5 H287.5 V265.5 H289.8 V267.5 H296.2 V269.8 H305.8 V271.4 H309 V274.6 H393.9" fill="none" stroke="#4aa24a" stroke-width="1.1" stroke-linejoin="miter"/>
<path d="M245.5,229.7 H249.2 V241.4 H251.5 V253.1 H256.9 V288.6 H258.4 V311.2 H264.3 V323.5" fill="none" stroke="#eda33a" stroke-width="1.1" stroke-linejoin="miter"/>
<path d="M245.5,229.7 H253.2 V236.4 H255.5 V241.9 H257.2 V247.5 H262.2 V249.1 H262.8 V258 H265 V262.7 H267.5 V269.5 H281.1 V277.2 H285.9 V285.2 H313.8 V292.4 H367.3" fill="none" stroke="#2e3a62" stroke-width="1.1" stroke-linejoin="miter"/>
<path d="M245.5,229.7 V233 H246.3 V236 H247 V240 H247.8 V244 H248.5 V248 H249.2 V252 H250 V256 H250.8 V262 H251.8 V270 H252.8 V276 H253.4 V281.8 H258.6 V288.2 H288.3 V294.7 H297.8 V302.7 H302.6 V309.6 H312.2 V316.3 H363.3" fill="none" stroke="#d91e63" stroke-width="1.1" stroke-linejoin="miter"/>
<line x1="245.5" y1="225.0" x2="245.5" y2="329.0" stroke="#111" stroke-width="1"/>
<line x1="245.0" y1="328.5" x2="407.6" y2="328.5" stroke="#111" stroke-width="1"/>
<line x1="243.3" y1="229.7" x2="245.5" y2="229.7" stroke="#111" stroke-width="1"/>
<text transform="translate(239.60,232.30) scale(0.930,1)" font-size="7.92" text-anchor="end" fill="#262626" stroke="#262626" stroke-width="0.28" >1.00</text>
<line x1="243.3" y1="253.0" x2="245.5" y2="253.0" stroke="#111" stroke-width="1"/>
<text transform="translate(239.60,255.65) scale(0.930,1)" font-size="7.92" text-anchor="end" fill="#262626" stroke="#262626" stroke-width="0.28" >0.75</text>
<line x1="243.3" y1="276.4" x2="245.5" y2="276.4" stroke="#111" stroke-width="1"/>
<text transform="translate(239.60,279.00) scale(0.930,1)" font-size="7.92" text-anchor="end" fill="#262626" stroke="#262626" stroke-width="0.28" >0.50</text>
<line x1="243.3" y1="299.8" x2="245.5" y2="299.8" stroke="#111" stroke-width="1"/>
<text transform="translate(239.60,302.35) scale(0.930,1)" font-size="7.92" text-anchor="end" fill="#262626" stroke="#262626" stroke-width="0.28" >0.25</text>
<line x1="245.6" y1="328.5" x2="245.6" y2="330.7" stroke="#111" stroke-width="1"/>
<text transform="translate(245.60,341.10) scale(0.930,1)" font-size="8.03" text-anchor="middle" fill="#262626" stroke="#262626" stroke-width="0.28" >0</text>
<line x1="264.4" y1="328.5" x2="264.4" y2="330.7" stroke="#111" stroke-width="1"/>
<text transform="translate(264.38,341.10) scale(0.930,1)" font-size="8.03" text-anchor="middle" fill="#262626" stroke="#262626" stroke-width="0.28" >100</text>
<line x1="283.2" y1="328.5" x2="283.2" y2="330.7" stroke="#111" stroke-width="1"/>
<text transform="translate(283.16,341.10) scale(0.930,1)" font-size="8.03" text-anchor="middle" fill="#262626" stroke="#262626" stroke-width="0.28" >200</text>
<line x1="301.9" y1="328.5" x2="301.9" y2="330.7" stroke="#111" stroke-width="1"/>
<text transform="translate(301.94,341.10) scale(0.930,1)" font-size="8.03" text-anchor="middle" fill="#262626" stroke="#262626" stroke-width="0.28" >300</text>
<line x1="320.7" y1="328.5" x2="320.7" y2="330.7" stroke="#111" stroke-width="1"/>
<text transform="translate(320.72,341.10) scale(0.930,1)" font-size="8.03" text-anchor="middle" fill="#262626" stroke="#262626" stroke-width="0.28" >400</text>
<line x1="339.5" y1="328.5" x2="339.5" y2="330.7" stroke="#111" stroke-width="1"/>
<text transform="translate(339.50,341.10) scale(0.930,1)" font-size="8.03" text-anchor="middle" fill="#262626" stroke="#262626" stroke-width="0.28" >500</text>
<line x1="358.3" y1="328.5" x2="358.3" y2="330.7" stroke="#111" stroke-width="1"/>
<text transform="translate(358.28,341.10) scale(0.930,1)" font-size="8.03" text-anchor="middle" fill="#262626" stroke="#262626" stroke-width="0.28" >600</text>
<line x1="377.1" y1="328.5" x2="377.1" y2="330.7" stroke="#111" stroke-width="1"/>
<text transform="translate(377.06,341.10) scale(0.930,1)" font-size="8.03" text-anchor="middle" fill="#262626" stroke="#262626" stroke-width="0.28" >700</text>
<line x1="395.8" y1="328.5" x2="395.8" y2="330.7" stroke="#111" stroke-width="1"/>
<text transform="translate(395.84,341.10) scale(0.930,1)" font-size="8.03" text-anchor="middle" fill="#262626" stroke="#262626" stroke-width="0.28" >800</text>
<text transform="translate(219.7,276.7) rotate(-90) scale(0.680,1)" font-size="8.80" text-anchor="middle" fill="#262626" stroke="#262626" stroke-width="0.42">Probability</text>
<text transform="translate(347.60,242.00) scale(0.930,1)" font-size="7.81" text-anchor="middle" fill="#262626" stroke="#262626" stroke-width="0.28" >Log-rank</text>
<text transform="translate(332.20,250.80) scale(0.930,1)" font-size="7.81" text-anchor="start" fill="#262626" stroke="#262626" stroke-width="0.28" ><tspan font-style="italic">P</tspan> &lt; .0001</text>
<text transform="translate(326.4,352.6) scale(0.680,1)" font-size="8.80" text-anchor="middle" fill="#262626" stroke="#262626" stroke-width="0.42">Time (days)</text>
<rect x="413.2" y="260.1" width="12.6" height="11.8" fill="#8abc70" fill-opacity="0.3"/>
<line x1="413.6" y1="266.0" x2="425.4" y2="266.0" stroke="#4aa24a" stroke-width="1.1"/>
<line x1="419.5" y1="264.0" x2="419.5" y2="268.0" stroke="#4aa24a" stroke-width="0.9"/>
<text transform="translate(428.4,268.8) scale(0.875,1)" font-size="8.0" fill="#262626" stroke="#262626" stroke-width="0.2">5-&lt;50%, no HLH-LT</text>
<rect x="413.2" y="278.3" width="12.6" height="11.8" fill="#f8ac55" fill-opacity="0.3"/>
<line x1="413.6" y1="284.2" x2="425.4" y2="284.2" stroke="#eda33a" stroke-width="1.1"/>
<line x1="419.5" y1="282.2" x2="419.5" y2="286.2" stroke="#eda33a" stroke-width="0.9"/>
<text transform="translate(428.4,287.0) scale(0.875,1)" font-size="8.0" fill="#262626" stroke="#262626" stroke-width="0.2">5-&lt;50%, + HLH-LT</text>
<rect x="413.2" y="296.5" width="12.6" height="11.8" fill="#414e8e" fill-opacity="0.3"/>
<line x1="413.6" y1="302.4" x2="425.4" y2="302.4" stroke="#2e3a62" stroke-width="1.1"/>
<line x1="419.5" y1="300.4" x2="419.5" y2="304.4" stroke="#2e3a62" stroke-width="0.9"/>
<text transform="translate(428.4,305.2) scale(0.875,1)" font-size="8.0" fill="#262626" stroke="#262626" stroke-width="0.2">&#8805; 50%, no HLH-LT</text>
<rect x="413.2" y="314.7" width="12.6" height="11.8" fill="#e85880" fill-opacity="0.3"/>
<line x1="413.6" y1="320.6" x2="425.4" y2="320.6" stroke="#d91e63" stroke-width="1.1"/>
<line x1="419.5" y1="318.6" x2="419.5" y2="322.6" stroke="#d91e63" stroke-width="0.9"/>
<text transform="translate(428.4,323.4) scale(0.875,1)" font-size="8.0" fill="#262626" stroke="#262626" stroke-width="0.2">&#8805; 50%, + HLH-LT</text>
<text transform="translate(39.90,367.50) scale(0.895,1)" font-size="7.97" text-anchor="start" fill="#262626" stroke="#262626" stroke-width="0.28" >Number at risk</text>
<rect x="29.0" y="374.3" width="3.7" height="3.7" fill="#4aa24a"/>
<text transform="translate(39.70,378.95) scale(0.930,1)" font-size="8.19" text-anchor="middle" fill="#262626" stroke="#262626" stroke-width="0.28" >34</text>
<text transform="translate(58.48,378.95) scale(0.930,1)" font-size="8.19" text-anchor="middle" fill="#262626" stroke="#262626" stroke-width="0.28" >31</text>
<text transform="translate(77.26,378.95) scale(0.930,1)" font-size="8.19" text-anchor="middle" fill="#262626" stroke="#262626" stroke-width="0.28" >28</text>
<text transform="translate(96.04,378.95) scale(0.930,1)" font-size="8.19" text-anchor="middle" fill="#262626" stroke="#262626" stroke-width="0.28" >24</text>
<text transform="translate(114.82,378.95) scale(0.930,1)" font-size="8.19" text-anchor="middle" fill="#262626" stroke="#262626" stroke-width="0.28" >19</text>
<text transform="translate(133.60,378.95) scale(0.930,1)" font-size="8.19" text-anchor="middle" fill="#262626" stroke="#262626" stroke-width="0.28" >12</text>
<text transform="translate(152.38,378.95) scale(0.930,1)" font-size="8.19" text-anchor="middle" fill="#262626" stroke="#262626" stroke-width="0.28" >9</text>
<text transform="translate(171.16,378.95) scale(0.930,1)" font-size="8.19" text-anchor="middle" fill="#262626" stroke="#262626" stroke-width="0.28" >6</text>
<text transform="translate(189.94,378.95) scale(0.930,1)" font-size="8.19" text-anchor="middle" fill="#262626" stroke="#262626" stroke-width="0.28" >1</text>
<rect x="29.0" y="385.2" width="3.7" height="3.7" fill="#eda33a"/>
<text transform="translate(39.70,389.85) scale(0.930,1)" font-size="8.19" text-anchor="middle" fill="#262626" stroke="#262626" stroke-width="0.28" >8</text>
<text transform="translate(58.48,389.85) scale(0.930,1)" font-size="8.19" text-anchor="middle" fill="#262626" stroke="#262626" stroke-width="0.28" >5</text>
<text transform="translate(77.26,389.85) scale(0.930,1)" font-size="8.19" text-anchor="middle" fill="#262626" stroke="#262626" stroke-width="0.28" >2</text>
<text transform="translate(96.04,389.85) scale(0.930,1)" font-size="8.19" text-anchor="middle" fill="#262626" stroke="#262626" stroke-width="0.28" >1</text>
<text transform="translate(114.82,389.85) scale(0.930,1)" font-size="8.19" text-anchor="middle" fill="#262626" stroke="#262626" stroke-width="0.28" >1</text>
<text transform="translate(133.60,389.85) scale(0.930,1)" font-size="8.19" text-anchor="middle" fill="#262626" stroke="#262626" stroke-width="0.28" >1</text>
<text transform="translate(152.38,389.85) scale(0.930,1)" font-size="8.19" text-anchor="middle" fill="#262626" stroke="#262626" stroke-width="0.28" >1</text>
<text transform="translate(171.16,389.85) scale(0.930,1)" font-size="8.19" text-anchor="middle" fill="#262626" stroke="#262626" stroke-width="0.28" >1</text>
<text transform="translate(189.94,389.85) scale(0.930,1)" font-size="8.19" text-anchor="middle" fill="#262626" stroke="#262626" stroke-width="0.28" >0</text>
<rect x="29.0" y="396.2" width="3.7" height="3.7" fill="#2e3a62"/>
<text transform="translate(39.70,400.85) scale(0.930,1)" font-size="8.19" text-anchor="middle" fill="#262626" stroke="#262626" stroke-width="0.28" >15</text>
<text transform="translate(58.48,400.85) scale(0.930,1)" font-size="8.19" text-anchor="middle" fill="#262626" stroke="#262626" stroke-width="0.28" >12</text>
<text transform="translate(77.26,400.85) scale(0.930,1)" font-size="8.19" text-anchor="middle" fill="#262626" stroke="#262626" stroke-width="0.28" >10</text>
<text transform="translate(96.04,400.85) scale(0.930,1)" font-size="8.19" text-anchor="middle" fill="#262626" stroke="#262626" stroke-width="0.28" >9</text>
<text transform="translate(114.82,400.85) scale(0.930,1)" font-size="8.19" text-anchor="middle" fill="#262626" stroke="#262626" stroke-width="0.28" >8</text>
<text transform="translate(133.60,400.85) scale(0.930,1)" font-size="8.19" text-anchor="middle" fill="#262626" stroke="#262626" stroke-width="0.28" >8</text>
<text transform="translate(152.38,400.85) scale(0.930,1)" font-size="8.19" text-anchor="middle" fill="#262626" stroke="#262626" stroke-width="0.28" >3</text>
<text transform="translate(171.16,400.85) scale(0.930,1)" font-size="8.19" text-anchor="middle" fill="#262626" stroke="#262626" stroke-width="0.28" >1</text>
<text transform="translate(189.94,400.85) scale(0.930,1)" font-size="8.19" text-anchor="middle" fill="#262626" stroke="#262626" stroke-width="0.28" >0</text>
<rect x="29.0" y="407.2" width="3.7" height="3.7" fill="#d91e63"/>
<text transform="translate(39.70,411.85) scale(0.930,1)" font-size="8.19" text-anchor="middle" fill="#262626" stroke="#262626" stroke-width="0.28" >16</text>
<text transform="translate(58.48,411.85) scale(0.930,1)" font-size="8.19" text-anchor="middle" fill="#262626" stroke="#262626" stroke-width="0.28" >9</text>
<text transform="translate(77.26,411.85) scale(0.930,1)" font-size="8.19" text-anchor="middle" fill="#262626" stroke="#262626" stroke-width="0.28" >7</text>
<text transform="translate(96.04,411.85) scale(0.930,1)" font-size="8.19" text-anchor="middle" fill="#262626" stroke="#262626" stroke-width="0.28" >5</text>
<text transform="translate(114.82,411.85) scale(0.930,1)" font-size="8.19" text-anchor="middle" fill="#262626" stroke="#262626" stroke-width="0.28" >2</text>
<text transform="translate(133.60,411.85) scale(0.930,1)" font-size="8.19" text-anchor="middle" fill="#262626" stroke="#262626" stroke-width="0.28" >2</text>
<text transform="translate(152.38,411.85) scale(0.930,1)" font-size="8.19" text-anchor="middle" fill="#262626" stroke="#262626" stroke-width="0.28" >1</text>
<text transform="translate(171.16,411.85) scale(0.930,1)" font-size="8.19" text-anchor="middle" fill="#262626" stroke="#262626" stroke-width="0.28" >0</text>
<text transform="translate(189.94,411.85) scale(0.930,1)" font-size="8.19" text-anchor="middle" fill="#262626" stroke="#262626" stroke-width="0.28" >0</text>
<text transform="translate(23.6,392.8) rotate(-90) scale(0.670,1)" font-size="7.80" text-anchor="middle" fill="#262626" stroke="#262626" stroke-width="0.42">Strata</text>
<text transform="translate(246.10,367.50) scale(0.895,1)" font-size="7.97" text-anchor="start" fill="#262626" stroke="#262626" stroke-width="0.28" >Number at risk</text>
<rect x="235.2" y="374.3" width="3.7" height="3.7" fill="#4aa24a"/>
<text transform="translate(245.90,378.95) scale(0.930,1)" font-size="8.19" text-anchor="middle" fill="#262626" stroke="#262626" stroke-width="0.28" >34</text>
<text transform="translate(264.68,378.95) scale(0.930,1)" font-size="8.19" text-anchor="middle" fill="#262626" stroke="#262626" stroke-width="0.28" >27</text>
<text transform="translate(283.46,378.95) scale(0.930,1)" font-size="8.19" text-anchor="middle" fill="#262626" stroke="#262626" stroke-width="0.28" >21</text>
<text transform="translate(302.24,378.95) scale(0.930,1)" font-size="8.19" text-anchor="middle" fill="#262626" stroke="#262626" stroke-width="0.28" >16</text>
<text transform="translate(321.02,378.95) scale(0.930,1)" font-size="8.19" text-anchor="middle" fill="#262626" stroke="#262626" stroke-width="0.28" >13</text>
<text transform="translate(339.80,378.95) scale(0.930,1)" font-size="8.19" text-anchor="middle" fill="#262626" stroke="#262626" stroke-width="0.28" >9</text>
<text transform="translate(358.58,378.95) scale(0.930,1)" font-size="8.19" text-anchor="middle" fill="#262626" stroke="#262626" stroke-width="0.28" >7</text>
<text transform="translate(377.36,378.95) scale(0.930,1)" font-size="8.19" text-anchor="middle" fill="#262626" stroke="#262626" stroke-width="0.28" >4</text>
<text transform="translate(396.14,378.95) scale(0.930,1)" font-size="8.19" text-anchor="middle" fill="#262626" stroke="#262626" stroke-width="0.28" >0</text>
<rect x="235.2" y="385.2" width="3.7" height="3.7" fill="#eda33a"/>
<text transform="translate(245.90,389.85) scale(0.930,1)" font-size="8.19" text-anchor="middle" fill="#262626" stroke="#262626" stroke-width="0.28" >8</text>
<text transform="translate(264.68,389.85) scale(0.930,1)" font-size="8.19" text-anchor="middle" fill="#262626" stroke="#262626" stroke-width="0.28" >1</text>
<text transform="translate(283.46,389.85) scale(0.930,1)" font-size="8.19" text-anchor="middle" fill="#262626" stroke="#262626" stroke-width="0.28" >0</text>
<text transform="translate(302.24,389.85) scale(0.930,1)" font-size="8.19" text-anchor="middle" fill="#262626" stroke="#262626" stroke-width="0.28" >0</text>
<text transform="translate(321.02,389.85) scale(0.930,1)" font-size="8.19" text-anchor="middle" fill="#262626" stroke="#262626" stroke-width="0.28" >0</text>
<text transform="translate(339.80,389.85) scale(0.930,1)" font-size="8.19" text-anchor="middle" fill="#262626" stroke="#262626" stroke-width="0.28" >0</text>
<text transform="translate(358.58,389.85) scale(0.930,1)" font-size="8.19" text-anchor="middle" fill="#262626" stroke="#262626" stroke-width="0.28" >0</text>
<text transform="translate(377.36,389.85) scale(0.930,1)" font-size="8.19" text-anchor="middle" fill="#262626" stroke="#262626" stroke-width="0.28" >0</text>
<text transform="translate(396.14,389.85) scale(0.930,1)" font-size="8.19" text-anchor="middle" fill="#262626" stroke="#262626" stroke-width="0.28" >0</text>
<rect x="235.2" y="396.2" width="3.7" height="3.7" fill="#2e3a62"/>
<text transform="translate(245.90,400.85) scale(0.930,1)" font-size="8.19" text-anchor="middle" fill="#262626" stroke="#262626" stroke-width="0.28" >15</text>
<text transform="translate(264.68,400.85) scale(0.930,1)" font-size="8.19" text-anchor="middle" fill="#262626" stroke="#262626" stroke-width="0.28" >9</text>
<text transform="translate(283.46,400.85) scale(0.930,1)" font-size="8.19" text-anchor="middle" fill="#262626" stroke="#262626" stroke-width="0.28" >6</text>
<text transform="translate(302.24,400.85) scale(0.930,1)" font-size="8.19" text-anchor="middle" fill="#262626" stroke="#262626" stroke-width="0.28" >5</text>
<text transform="translate(321.02,400.85) scale(0.930,1)" font-size="8.19" text-anchor="middle" fill="#262626" stroke="#262626" stroke-width="0.28" >4</text>
<text transform="translate(339.80,400.85) scale(0.930,1)" font-size="8.19" text-anchor="middle" fill="#262626" stroke="#262626" stroke-width="0.28" >4</text>
<text transform="translate(358.58,400.85) scale(0.930,1)" font-size="8.19" text-anchor="middle" fill="#262626" stroke="#262626" stroke-width="0.28" >2</text>
<text transform="translate(377.36,400.85) scale(0.930,1)" font-size="8.19" text-anchor="middle" fill="#262626" stroke="#262626" stroke-width="0.28" >0</text>
<text transform="translate(396.14,400.85) scale(0.930,1)" font-size="8.19" text-anchor="middle" fill="#262626" stroke="#262626" stroke-width="0.28" >0</text>
<rect x="235.2" y="407.2" width="3.7" height="3.7" fill="#d91e63"/>
<text transform="translate(245.90,411.85) scale(0.930,1)" font-size="8.19" text-anchor="middle" fill="#262626" stroke="#262626" stroke-width="0.28" >16</text>
<text transform="translate(264.68,411.85) scale(0.930,1)" font-size="8.19" text-anchor="middle" fill="#262626" stroke="#262626" stroke-width="0.28" >6</text>
<text transform="translate(283.46,411.85) scale(0.930,1)" font-size="8.19" text-anchor="middle" fill="#262626" stroke="#262626" stroke-width="0.28" >5</text>
<text transform="translate(302.24,411.85) scale(0.930,1)" font-size="8.19" text-anchor="middle" fill="#262626" stroke="#262626" stroke-width="0.28" >3</text>
<text transform="translate(321.02,411.85) scale(0.930,1)" font-size="8.19" text-anchor="middle" fill="#262626" stroke="#262626" stroke-width="0.28" >1</text>
<text transform="translate(339.80,411.85) scale(0.930,1)" font-size="8.19" text-anchor="middle" fill="#262626" stroke="#262626" stroke-width="0.28" >1</text>
<text transform="translate(358.58,411.85) scale(0.930,1)" font-size="8.19" text-anchor="middle" fill="#262626" stroke="#262626" stroke-width="0.28" >1</text>
<text transform="translate(377.36,411.85) scale(0.930,1)" font-size="8.19" text-anchor="middle" fill="#262626" stroke="#262626" stroke-width="0.28" >0</text>
<text transform="translate(396.14,411.85) scale(0.930,1)" font-size="8.19" text-anchor="middle" fill="#262626" stroke="#262626" stroke-width="0.28" >0</text>
<text transform="translate(224.3,392.8) rotate(-90) scale(0.670,1)" font-size="7.80" text-anchor="middle" fill="#262626" stroke="#262626" stroke-width="0.42">Strata</text>
<rect x="0.5" y="0.5" width="519" height="419" fill="none" stroke="#666" stroke-width="1"/>
</svg>
</body></html>
